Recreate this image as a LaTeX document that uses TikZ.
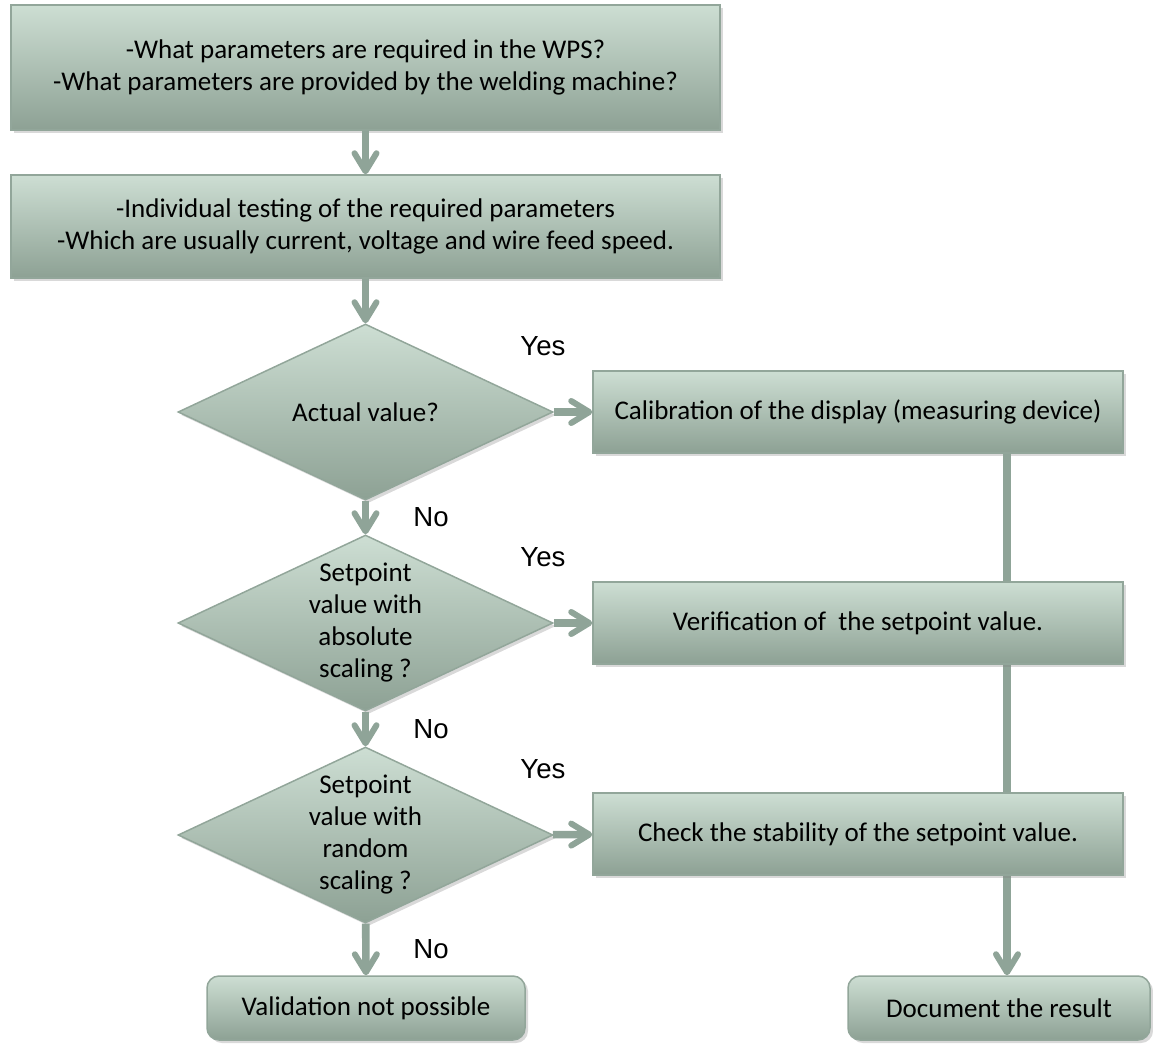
\documentclass[tikz,border=0pt]{standalone}
\usepackage{fontspec}
\setmainfont{Carlito}
\newfontfamily\arialfont{Liberation Sans}
\usetikzlibrary{shapes.geometric, arrows.meta, shadows}
\definecolor{boxtop}{RGB}{205,222,211}
\definecolor{boxbot}{RGB}{141,161,148}
\definecolor{boxline}{RGB}{146,166,154}
\definecolor{linkc}{RGB}{143,164,152}

\begin{document}
\begin{tikzpicture}[x=0.5pt, y=-0.5pt, inner sep=1mm, >={Straight Barb[length=9pt,width=11pt,line width=3pt,round]},
  stepbox/.style={rectangle, draw=boxline, line width=0.75pt, top color=boxtop, bottom color=boxbot,
    drop shadow={shadow xshift=1.5pt, shadow yshift=-1.5pt, opacity=0.3}, align=center,
    font=\fontsize{13.5}{16}\selectfont},
  askbox/.style={stepbox, diamond, aspect=2.13, inner sep=-3pt, minimum width=187.5pt, minimum height=88pt},
  endbox/.style={stepbox, rounded corners=6pt, minimum height=32pt},
  sidebox/.style={stepbox, minimum width=265pt, minimum height=41pt},
  answer/.style={font=\arialfont\fontsize{13.8}{16}\selectfont, inner sep=0pt},
  link/.style={linkc, line width=3.8pt}]
\useasboundingbox (0,0) rectangle (1153,1045);

% right column first, so the long line runs behind the boxes
\node (calib) at (858,412) [sidebox] {Calibration of the display (measuring device)};
\node (doc) at (999,1008) [endbox, minimum width=151pt] {Document the result};
\draw[->, link] ([xshift=4pt]doc.north |- calib.south) -- ([xshift=4pt]doc.north);
\node (verif) at (858,623) [sidebox] {Verification of~ the setpoint value.};
\node (check) at (858,834) [sidebox] {Check the stability of the setpoint value.};

% main column
\node (wps) at (365.5,67.5) [stepbox, minimum width=354.5pt, minimum height=62.5pt] {-What parameters are required in the WPS?\\-What parameters are provided by the welding machine?};
\node (test) at (365.5,226.5) [stepbox, minimum width=354.5pt, minimum height=51.5pt] {-Individual testing of the required parameters\\-Which are usually current, voltage and wire feed speed.};
\node (actual) at (365.5,412) [askbox] {Actual value?};
\node (absol) at (365.5,623) [askbox] {Setpoint\\value with\\absolute\\scaling ?};
\node (random) at (365.5,835) [askbox] {Setpoint\\value with\\random\\scaling ?};
\node (valid) at (366,1008) [endbox, minimum width=159pt] {Validation not possible};

\draw[->, link] (wps) -- (test);
\draw[->, link] (test) -- (actual);
\draw[->, link] (actual) -- (absol);
\draw[->, link] (absol) -- (random);
\draw[->, link] (random) -- (valid);
\draw[->, link] (actual) -- (calib);
\draw[->, link] (absol) -- (verif);
\draw[->, link] (random) -- (check);

\node (yes1) at (543,346) [answer] {Yes};
\node (yes2) at (543,557) [answer] {Yes};
\node (yes3) at (543,769) [answer] {Yes};
\node (no1) at (431,517) [answer] {No};
\node (no2) at (431,729) [answer] {No};
\node (no3) at (431,949) [answer] {No};
\end{tikzpicture}
\end{document}
